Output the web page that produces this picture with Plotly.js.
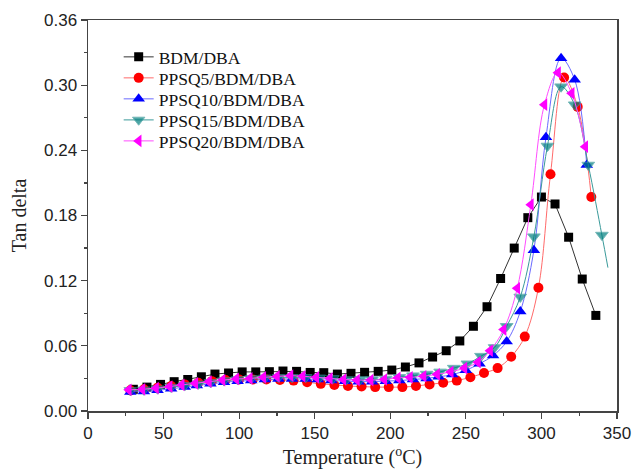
<!DOCTYPE html>
<html>
<head>
<meta charset="utf-8">
<script src="https://cdn.plot.ly/plotly-3.0.1.min.js"></script>
<style>html,body{margin:0;padding:0;background:#fff;}#chart{width:634px;height:470px;}</style>
</head>
<body>
<div id="chart"></div>
<script>
// BDM/DBA
const xBDM = [30, 39, 48, 57, 66, 75, 84, 93, 102, 111, 120, 129, 138, 147, 156, 165, 174, 183, 192, 201, 210, 219, 228, 237, 246, 255, 264, 273, 282, 291, 300, 309, 318, 327, 336];
const yBDM = [0.020, 0.022, 0.0245, 0.027, 0.029, 0.0315, 0.034, 0.035, 0.036, 0.036, 0.0362, 0.0368, 0.0365, 0.0355, 0.0353, 0.034, 0.0347, 0.0356, 0.0365, 0.0377, 0.0405, 0.0443, 0.0497, 0.0555, 0.0645, 0.078, 0.096, 0.122, 0.150, 0.178, 0.197, 0.1906, 0.160, 0.1215, 0.088];
// PPSQ5/BDM/DBA
const xP5 = [28, 37, 46, 55, 64, 73, 82, 91, 100, 109, 118, 127, 136, 145, 154, 163, 172, 181, 190, 199, 208, 217, 226, 235, 244, 253, 262, 271, 280, 289, 298, 306, 315, 324, 333];
const yP5 = [0.019, 0.020, 0.0215, 0.023, 0.0245, 0.026, 0.0275, 0.0285, 0.029, 0.029, 0.029, 0.0285, 0.028, 0.0265, 0.025, 0.024, 0.023, 0.0225, 0.022, 0.022, 0.022, 0.023, 0.0245, 0.026, 0.028, 0.031, 0.035, 0.0395, 0.050, 0.0685, 0.1135, 0.218, 0.307, 0.280, 0.197];
// PPSQ10/BDM/DBA
const xP10 = [28, 37, 46, 55, 64, 72, 81, 90, 99, 108, 117, 126, 135, 144, 152, 161, 170, 179, 188, 197, 206, 215, 224, 232, 241, 250, 259, 268, 277, 286, 295, 303, 313, 322, 330];
const yP10 = [0.0175, 0.018, 0.019, 0.0205, 0.022, 0.0235, 0.025, 0.0265, 0.0275, 0.028, 0.029, 0.0295, 0.0295, 0.0295, 0.029, 0.028, 0.0275, 0.027, 0.027, 0.0275, 0.028, 0.029, 0.030, 0.0315, 0.0335, 0.0375, 0.0435, 0.051, 0.064, 0.0915, 0.148, 0.252, 0.3248, 0.305, 0.2265];
// PPSQ15/BDM/DBA
const xP15 = [28, 37, 46, 55, 64, 73, 81, 90, 99, 108, 117, 126, 135, 144, 153, 162, 171, 180, 188, 197, 206, 215, 224, 233, 242, 251, 260, 269, 277, 286, 295, 304, 313, 322, 331, 340, 344];
const yP15 = [0.019, 0.0195, 0.0205, 0.022, 0.0235, 0.025, 0.0265, 0.028, 0.029, 0.030, 0.0305, 0.031, 0.031, 0.031, 0.0305, 0.030, 0.029, 0.029, 0.029, 0.0295, 0.031, 0.0325, 0.034, 0.036, 0.0395, 0.0435, 0.0505, 0.0585, 0.078, 0.105, 0.1605, 0.244, 0.2986, 0.282, 0.2265, 0.162, 0.132];
// PPSQ20/BDM/DBA
const xP20 = [27, 36, 45, 54, 62, 71, 80, 89, 98, 107, 116, 125, 134, 142, 151, 160, 169, 178, 187, 196, 205, 213, 222, 231, 240, 249, 258, 266, 275, 284, 293, 302, 311, 320, 329];
const yP20 = [0.0195, 0.020, 0.021, 0.0225, 0.024, 0.0255, 0.027, 0.0285, 0.0295, 0.030, 0.031, 0.0318, 0.0325, 0.032, 0.031, 0.030, 0.029, 0.0285, 0.0285, 0.029, 0.0305, 0.031, 0.032, 0.0338, 0.036, 0.0395, 0.045, 0.0555, 0.075, 0.113, 0.19, 0.282, 0.3115, 0.2925, 0.2434];

const names = ['BDM/DBA', 'PPSQ5/BDM/DBA', 'PPSQ10/BDM/DBA', 'PPSQ15/BDM/DBA', 'PPSQ20/BDM/DBA'];
const xTicks = [0, 50, 100, 150, 200, 250, 300, 350];
const yTicks = [0, 0.06, 0.12, 0.18, 0.24, 0.30, 0.36];
const yTickText = ['0.00', '0.06', '0.12', '0.18', '0.24', '0.30', '0.36'];

const p15sizes = xP15.map((v, i) => i === xP15.length - 1 ? 0 : 11);

const traces = [
  {x: xBDM, y: yBDM, name: names[0], legend: 'legend', mode: 'lines+markers', line: {color: '#333333', width: 1}, marker: {symbol: 'square', size: 9, color: '#000000'}},
  {x: xP5, y: yP5, name: names[1], legend: 'legend2', mode: 'lines+markers', line: {color: '#ff6a6a', width: 1, shape: 'spline'}, marker: {symbol: 'circle', size: 10, color: '#ff0000'}},
  {x: xP10, y: yP10, name: names[2], legend: 'legend3', mode: 'lines+markers', line: {color: '#6a6aff', width: 1, shape: 'spline'}, marker: {symbol: 'triangle-up', size: 11, color: '#0000ff'}},
  {x: xP15, y: yP15, name: names[3], legend: 'legend4', mode: 'lines+markers', line: {color: '#3a9a9a', width: 1, shape: 'spline'}, marker: {symbol: 'triangle-down', size: p15sizes, color: '#007f7f'}},
  {x: xP20, y: yP20, name: names[4], legend: 'legend5', mode: 'lines+markers', line: {color: '#ff4cff', width: 1, shape: 'spline'}, marker: {symbol: 'triangle-left', size: 11, color: '#ff00ff'}}
];

const legFont = {family: '"Liberation Serif", "Times New Roman", serif', size: 17.5, color: '#111'};
function leg(y) {
  return {x: 0.058, y: y, xanchor: 'left', yanchor: 'middle', bgcolor: 'rgba(0,0,0,0)', borderwidth: 0, font: legFont};
}

const layout = {
  width: 634, height: 470,
  margin: {l: 88, r: 17, t: 20, b: 59},
  paper_bgcolor: '#ffffff', plot_bgcolor: '#ffffff',
  showlegend: true,
  legend: leg(0.9054),
  legend2: leg(0.8517),
  legend3: leg(0.798),
  legend4: leg(0.7442),
  legend5: leg(0.6905),
  xaxis: {
    range: [0, 350], tickmode: 'array', tickvals: xTicks,
    ticks: 'outside', ticklen: 6, tickwidth: 1.2, tickcolor: '#444',
    minor: {dtick: 25, ticks: 'outside', ticklen: 3, tickcolor: '#444'},
    showline: true, linecolor: '#444', linewidth: 1.5, mirror: true, showgrid: false, zeroline: false,
    tickfont: {family: '"Liberation Sans", Arial, sans-serif', size: 17, color: '#222'},
    title: {text: 'Temperature (<sup>o</sup>C)', font: {family: '"Liberation Serif", "Times New Roman", serif', size: 20, color: '#222'}, standoff: 8}
  },
  yaxis: {
    range: [0, 0.36], tickmode: 'array', tickvals: yTicks, ticktext: yTickText,
    ticks: 'outside', ticklen: 6, tickwidth: 1.2, tickcolor: '#444',
    minor: {dtick: 0.03, ticks: 'outside', ticklen: 3, tickcolor: '#444'},
    showline: true, linecolor: '#444', linewidth: 1.5, mirror: true, showgrid: false, zeroline: false,
    tickfont: {family: '"Liberation Sans", Arial, sans-serif', size: 17, color: '#222'},
    title: {text: 'Tan delta', font: {family: '"Liberation Serif", "Times New Roman", serif', size: 20, color: '#222'}, standoff: 12}
  }
};

Plotly.newPlot('chart', traces, layout, {displayModeBar: false, staticPlot: true});
</script>
</body>
</html>
